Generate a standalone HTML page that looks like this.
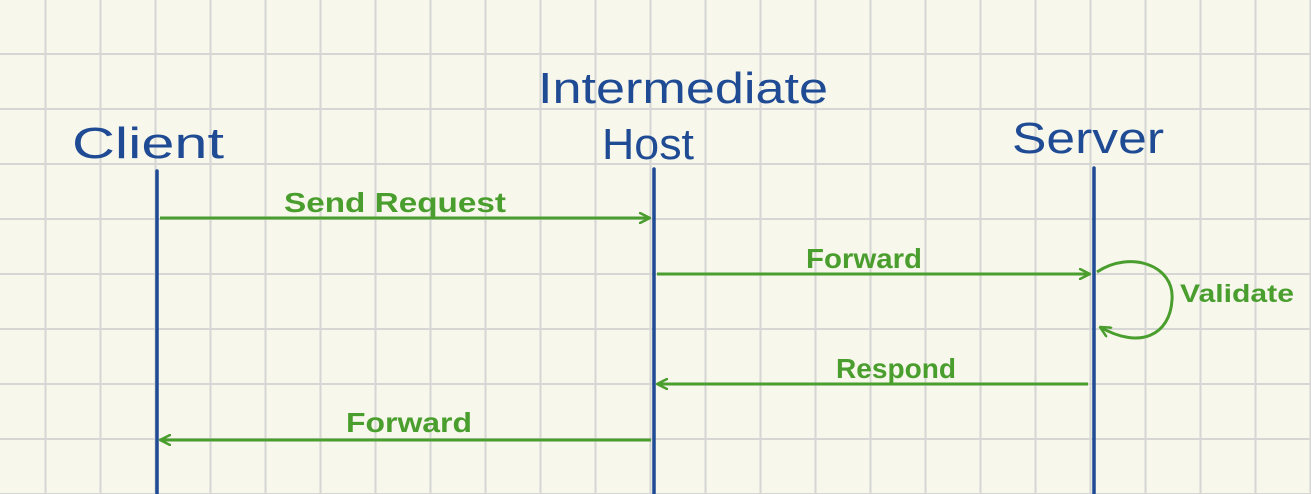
<!DOCTYPE html>
<html><head><style>
html,body{margin:0;padding:0}
body{width:1311px;height:494px;overflow:hidden;background:#f7f7ec;
background-image:linear-gradient(90deg,#d6d6d4 2px,transparent 2px),linear-gradient(#d6d6d4 2px,transparent 2px);
background-size:55px 55px;background-position:44.5px 53px;}
svg{position:absolute;left:0;top:0}
</style></head><body>
<svg width="1311" height="494" viewBox="0 0 1311 494">
<defs>
<marker id="a" viewBox="0 0 12 12" refX="11" refY="6" markerWidth="12" markerHeight="12" markerUnits="userSpaceOnUse" orient="auto">
<path d="M1,1 L11,6 L1,11" fill="none" stroke="#4a9e2e" stroke-width="2.5" stroke-linecap="round"/>
</marker>
</defs>
<g stroke="#1f4a94" stroke-width="3.5" stroke-linecap="round">
<line x1="157" y1="171" x2="157" y2="494"/>
<line x1="654" y1="169" x2="654" y2="494"/>
<line x1="1094" y1="168" x2="1094" y2="494"/>
</g>
<g font-family="'Comic Sans MS','Liberation Sans',sans-serif" fill="#1f4a94" font-size="44">
<text x="72" y="158" textLength="152" lengthAdjust="spacingAndGlyphs">Client</text>
<text x="538" y="103" textLength="290" lengthAdjust="spacingAndGlyphs">Intermediate</text>
<text x="602" y="159" textLength="92" lengthAdjust="spacingAndGlyphs">Host</text>
<text x="1012" y="153" textLength="152" lengthAdjust="spacingAndGlyphs">Server</text>
</g>
<g stroke="#4a9e2e" stroke-width="3" fill="none" marker-end="url(#a)">
<line x1="160" y1="218" x2="650" y2="218"/>
<line x1="657" y1="274" x2="1090" y2="274"/>
<line x1="1088" y1="384" x2="657" y2="384"/>
<line x1="651" y1="440" x2="160" y2="440"/>
<path d="M1097,272 C1130,250 1175,265 1172,300 C1170,335 1140,350 1100,327"/>
</g>
<g font-family="'Comic Sans MS','Liberation Sans',sans-serif" fill="#4a9e2e" font-size="28" font-weight="bold">
<text x="284" y="212" textLength="222" lengthAdjust="spacingAndGlyphs">Send Request</text>
<text x="806" y="268" textLength="116" lengthAdjust="spacingAndGlyphs">Forward</text>
<text x="836" y="378" textLength="120" lengthAdjust="spacingAndGlyphs">Respond</text>
<text x="346" y="432" textLength="126" lengthAdjust="spacingAndGlyphs">Forward</text>
<text x="1180" y="302" textLength="114" lengthAdjust="spacingAndGlyphs" font-size="25">Validate</text>
</g>
</svg>
</body></html>
